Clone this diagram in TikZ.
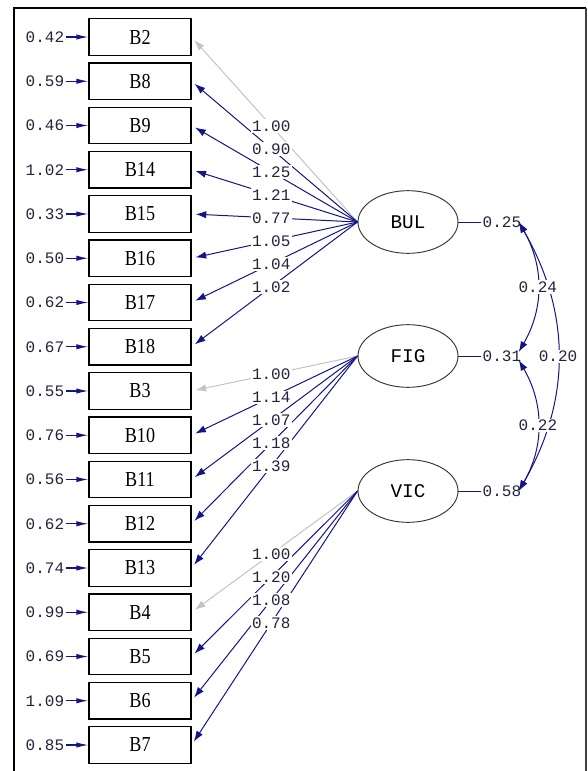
\documentclass[tikz,border=0pt]{standalone}
\usepackage{fontspec}
\setmainfont{Liberation Serif}
\setmonofont{Liberation Mono}
\newfontfamily\boxfont[FakeStretch=0.85]{Liberation Serif}
\usetikzlibrary{arrows.meta,positioning,shapes.geometric}
\definecolor{navy}{RGB}{20,20,135}
\definecolor{refgray}{RGB}{195,195,195}
\definecolor{numcol}{RGB}{35,35,60}
\begin{document}
\begin{tikzpicture}[x=0.75pt,y=-0.75pt,
    obs/.style={draw,line width=0.9pt,minimum width=76.5pt,minimum height=27.5pt,inner sep=0pt,font=\boxfont\fontsize{16}{16}\selectfont},
    lat/.style={draw=black!80,line width=0.7pt,ellipse,minimum width=75pt,minimum height=47pt,inner sep=0pt,font=\ttfamily\fontsize{14.5}{14.5}\selectfont},
    num/.style={text=numcol,inner sep=1pt,font=\ttfamily\fontsize{12}{12}\selectfont},
    load/.style={navy,line width=0.75pt,shorten >=3pt,-{Latex[length=8pt,width=5.5pt]}},
    fixed/.style={load,refgray},
    err/.style={navy,line width=0.9pt,-{Latex[length=9pt,width=4pt]}},
    cov/.style={navy,line width=0.75pt,{Latex[length=8pt,width=5.5pt]}-{Latex[length=8pt,width=5.5pt]}}]
    \useasboundingbox (0,0) rectangle (587,771);
    % Frame
    \draw[line width=1.6pt] (14,771) -- (14,8) -- (586,8);
    \draw[black!75,line width=1.2pt] (586,8) -- (586,771);
    % Indicators and errors
    \foreach \v/\e [count=\i from 0] in {B2/0.42,B8/0.59,B9/0.46,B14/1.02,B15/0.33,B16/0.50,B17/0.62,B18/0.67,
        B3/0.55,B10/0.76,B11/0.56,B12/0.62,B13/0.74,B4/0.99,B5/0.69,B6/1.09,B7/0.85} {
      \node[obs] (\v) at (140,{37+44.25*\i}) {\v};
      \node[num,left=17pt of \v] (e\v) {\e};
      \draw[err] (e\v) -- (\v);
    }
    % Latent variables
    \node[lat] (BUL) at (408,222) {BUL};
    \node[lat] (FIG) at (408,356) {FIG};
    \node[lat] (VIC) at (408,491) {VIC};
    % Loadings
    \foreach \f/\v in {BUL/B2,FIG/B3,VIC/B4}
      \draw[fixed] (\f.west) -- (\v.east);
    \foreach \f/\v in {BUL/B8,BUL/B9,BUL/B14,BUL/B15,BUL/B16,BUL/B17,BUL/B18,
        FIG/B10,FIG/B11,FIG/B12,FIG/B13,VIC/B5,VIC/B6,VIC/B7}
      \draw[load] (\f.west) -- (\v.east);
    \foreach \f/\v/\l in {BUL/B2/1.00,BUL/B8/0.90,BUL/B9/1.25,BUL/B14/1.21,BUL/B15/0.77,BUL/B16/1.05,BUL/B17/1.04,BUL/B18/1.02,
        FIG/B3/1.00,FIG/B10/1.14,FIG/B11/1.07,FIG/B12/1.18,FIG/B13/1.39,
        VIC/B4/1.00,VIC/B5/1.20,VIC/B6/1.08,VIC/B7/0.78}
      \path (\f.west) -- (\v.east) node[num,fill=white,pos=0.52] {\l};
    % Variances
    \foreach \f/\w in {BUL/0.25,FIG/0.31,VIC/0.58} {
      \node[num,right=17pt of \f] (v\f) {\w};
      \draw[navy,line width=0.75pt] (\f) -- (v\f);
    }
    % Covariances
    \draw[cov] ([xshift=-3pt]vBUL.east) to[bend left=30] node[num,fill=white] {0.20} ([xshift=-3pt]vVIC.east);
    \draw[cov] ([xshift=-3pt]vBUL.east) to[bend left=30] node[num,fill=white] {0.24} ([xshift=-3pt,yshift=3pt]vFIG.east);
    \draw[cov] ([xshift=-3pt,yshift=-3pt]vFIG.east) to[bend left=30] node[num,fill=white] {0.22} ([xshift=-3pt]vVIC.east);
\end{tikzpicture}
\end{document}
